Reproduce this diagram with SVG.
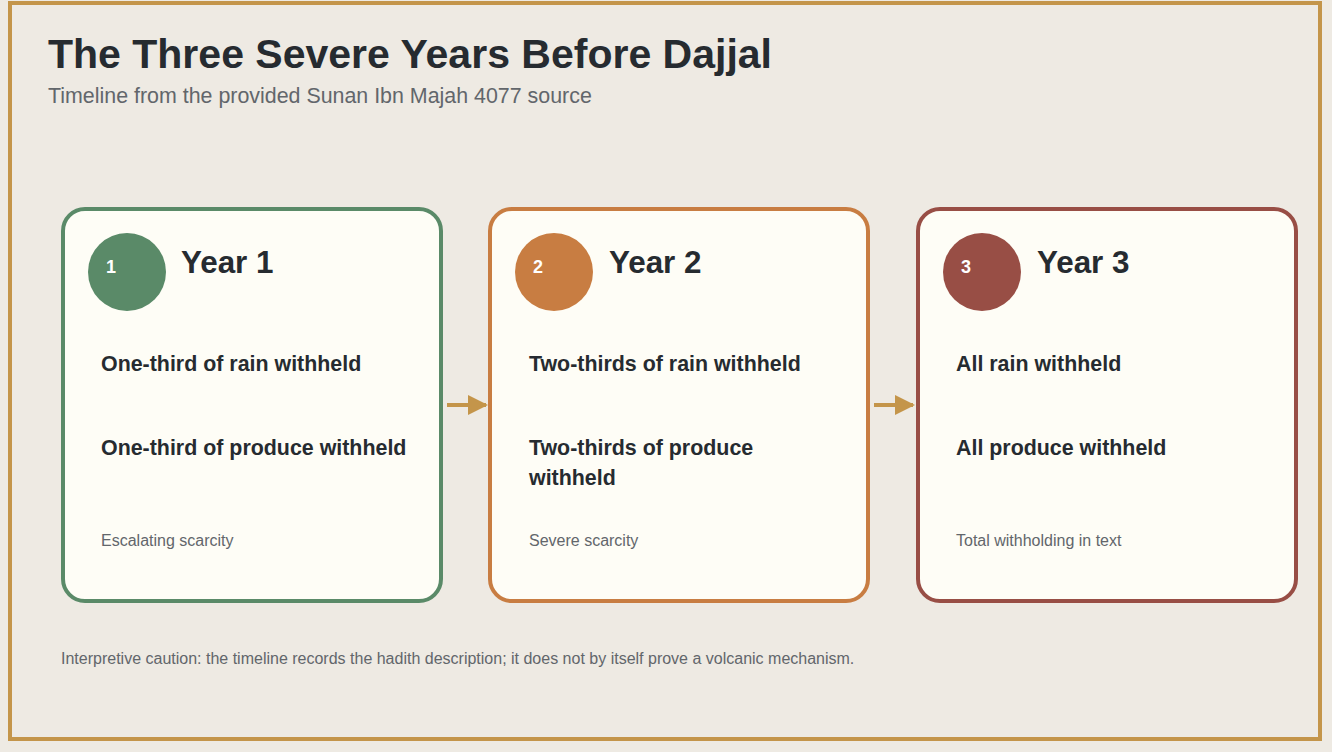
<svg xmlns="http://www.w3.org/2000/svg" width="1332" height="752" viewBox="0 0 1332 752">
<defs>
<style>
text{font-family:"Liberation Sans",Arial,sans-serif}
.title{font-size:41px;font-weight:bold;fill:#262b30}
.sub{font-size:21.4px;fill:#62666b}
.card{fill:#fefdf6;stroke-width:4}
.yr{font-size:31.4px;font-weight:bold;fill:#262b30}
.num{font-size:18px;font-weight:bold;fill:#ffffff}
.item{font-size:21.4px;font-weight:bold;fill:#262b30}
.note{font-size:16px;fill:#62666b}
.conn{stroke:#c4954a;stroke-width:4;fill:none}
</style>
<marker id="ah" viewBox="0 0 10 10" refX="9" refY="5" markerWidth="5" markerHeight="5" markerUnits="strokeWidth" orient="auto">
<path d="M0,0 L10,5 L0,10 z" fill="#c4954a"/>
</marker>
</defs>
<rect x="0" y="0" width="1332" height="752" fill="#eeeae3"/>
<rect x="10" y="3" width="1310" height="736" fill="none" stroke="#c4954a" stroke-width="4"/>
<text class="title" x="48" y="68">The Three Severe Years Before Dajjal</text>
<text class="sub" x="48" y="103">Timeline from the provided Sunan Ibn Majah 4077 source</text>

<g id="connectors">
<line class="conn" x1="447" y1="405" x2="486" y2="405" marker-end="url(#ah)"/>
<line class="conn" x1="874" y1="405" x2="913" y2="405" marker-end="url(#ah)"/>
</g>

<g id="year1">
<rect class="card" x="63" y="209" width="378" height="392" rx="22" stroke="#5a8a68"/>
<circle cx="127" cy="272" r="39" fill="#5a8a68"/>
<text class="num" x="106" y="273">1</text>
<text class="yr" x="181" y="273">Year 1</text>
<text class="item" x="101" y="371">One-third of rain withheld</text>
<text class="item" x="101" y="455">One-third of produce withheld</text>
<text class="note" x="101" y="546">Escalating scarcity</text>
</g>

<g id="year2">
<rect class="card" x="490" y="209" width="378" height="392" rx="22" stroke="#c87d42"/>
<circle cx="554" cy="272" r="39" fill="#c87d42"/>
<text class="num" x="533" y="273">2</text>
<text class="yr" x="609" y="273">Year 2</text>
<text class="item" x="529" y="371">Two-thirds of rain withheld</text>
<text class="item" x="529" y="455">Two-thirds of produce</text>
<text class="item" x="529" y="485">withheld</text>
<text class="note" x="529" y="546">Severe scarcity</text>
</g>

<g id="year3">
<rect class="card" x="918" y="209" width="378" height="392" rx="22" stroke="#984e45"/>
<circle cx="982" cy="272" r="39" fill="#984e45"/>
<text class="num" x="961" y="273">3</text>
<text class="yr" x="1037" y="273">Year 3</text>
<text class="item" x="956" y="371">All rain withheld</text>
<text class="item" x="956" y="455">All produce withheld</text>
<text class="note" x="956" y="546">Total withholding in text</text>
</g>

<text class="note" x="61" y="664">Interpretive caution: the timeline records the hadith description; it does not by itself prove a volcanic mechanism.</text>
</svg>
